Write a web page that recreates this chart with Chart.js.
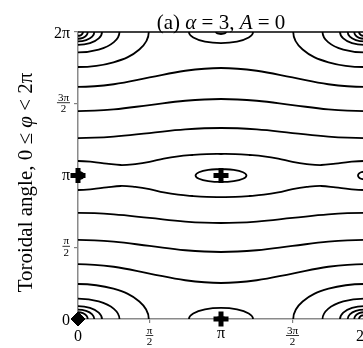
<!DOCTYPE html>
<html>
<head>
<meta charset="utf-8">
<script src="https://cdn.jsdelivr.net/npm/chart.js@4.4.1/dist/chart.umd.min.js"></script>
<style>
  html, body { margin: 0; padding: 0; overflow: hidden; background: #fff; }
  canvas { display: block; }
</style>
</head>
<body>
<canvas id="c" width="420" height="348"></canvas>
<script>
// Both angles are stored in units of π (poloidal on x, toroidal on y).
const tickValues = [0, 0.5, 1, 1.5, 2];
const xTickLabels = ['0', 'π/2', 'π', '3π/2', '2π'];
const yTickLabels = ['0', 'π/2', 'π', '3π/2', '2π'];
const titleParts = [['(a) ', false], ['α', true], [' = 3, ', false], ['A', true], [' = 0', false]];
const yTitleParts = [['Toroidal angle, 0 ≤ ', false], ['φ', true], [' < 2π', false]];

// Open field lines, bottom to top
const flow1 = [[-0.25,.364],[0,.383],[.25,.364],[.5,.317],[.75,.270],[1,.251],[1.25,.270],[1.5,.317],[1.75,.364],[2,.383],[2.25,.364]];
const flow2 = [[-0.25,.539],[0,.551],[.25,.539],[.5,.509],[.75,.479],[1,.467],[1.25,.479],[1.5,.509],[1.75,.539],[2,.551],[2.25,.539]];
const flow3 = [[-0.25,.729],[0,.739],[.25,.729],[.5,.704],[.75,.679],[1,.669],[1.25,.679],[1.5,.704],[1.75,.729],[2,.739],[2.25,.729]];
const flow4 = [[-0.1,.905],[0,.899],[.1,.905],[.2,.917],[.3,.927],[.4,.920],[.5,.905],[.6,.882],[.7,.866],[.8,.857],[.9,.851],[1,.850],[1.1,.851],[1.2,.857],[1.3,.866],[1.4,.882],[1.5,.905],[1.6,.920],[1.7,.927],[1.8,.917],[1.9,.905],[2,.899],[2.1,.905]];
const flow5 = [[-0.1,1.095],[0,1.101],[.1,1.095],[.2,1.083],[.3,1.073],[.4,1.080],[.5,1.095],[.6,1.118],[.7,1.134],[.8,1.143],[.9,1.149],[1,1.150],[1.1,1.149],[1.2,1.143],[1.3,1.134],[1.4,1.118],[1.5,1.095],[1.6,1.080],[1.7,1.073],[1.8,1.083],[1.9,1.095],[2,1.101],[2.1,1.095]];
const flow6 = [[-0.25,1.271],[0,1.261],[.25,1.271],[.5,1.296],[.75,1.321],[1,1.331],[1.25,1.321],[1.5,1.296],[1.75,1.271],[2,1.261],[2.25,1.271]];
const flow7 = [[-0.25,1.461],[0,1.449],[.25,1.461],[.5,1.491],[.75,1.521],[1,1.533],[1.25,1.521],[1.5,1.491],[1.75,1.461],[2,1.449],[2.25,1.461]];
const flow8 = [[-0.25,1.636],[0,1.617],[.25,1.636],[.5,1.683],[.75,1.730],[1,1.749],[1.25,1.730],[1.5,1.683],[1.75,1.636],[2,1.617],[2.25,1.636]];

// Closed islands around the O-points
const islandCentre = [[1,1.045],[.911,1.039],[.846,1.0225],[.822,1],[.846,.9775],[.911,.961],[1,.955],[1.089,.961],[1.154,.9775],[1.178,1],[1.154,1.0225],[1.089,1.039],[1,1.045]];
const islandRight = [[2.021,1.0225],[2,1.026],[1.979,1.0225],[1.964,1.013],[1.958,1],[1.964,.987],[1.979,.9775],[2,.974],[2.021,.9775]];
const islandLeft = [[-0.021,1.0225],[0,1.026],[.021,1.0225],[.036,1.013],[.042,1],[.036,.987],[.021,.9775],[0,.974],[-0.021,.9775]];
const domeBottom = [[1.194,-.0385],[1.224,0],[1.194,.0385],[1.112,.0667],[1,.077],[.888,.0667],[.806,.0385],[.776,0],[.806,-.0385]];
const domeTop = [[1.194,2.0385],[1.224,2],[1.194,1.9615],[1.112,1.9333],[1,1.923],[.888,1.9333],[.806,1.9615],[.776,2],[.806,2.0385]];
const capBottom = [[1.03,-.007],[1.035,0],[1.03,.007],[1.0175,.012],[1,.014],[.9825,.012],[.97,.007],[.965,0],[.97,-.007]];
const capTop = [[1.03,2.007],[1.035,2],[1.03,1.993],[1.0175,1.988],[1,1.986],[.9825,1.988],[.97,1.993],[.965,2],[.97,2.007]];

// Nested arcs around the corner O-points, outermost first
const arcsLowerLeft = [
  [[.429,-.122],[.495,0],[.429,.122],[.248,.211],[0,.244],[-.248,.211]],
  [[.251,-.071],[.29,0],[.251,.071],[.145,.123],[0,.142],[-.145,.123]],
  [[.145,-.045],[.168,0],[.145,.045],[.084,.078],[0,.09],[-.084,.078]],
  [[.099,-.033],[.114,0],[.099,.033],[.057,.057],[0,.066],[-.057,.057]],
  [[.059,-.024],[.068,0],[.059,.024],[.034,.041],[0,.047],[-.034,.041]],
  [[.030,-.013],[.035,0],[.030,.013],[.018,.023],[0,.026],[-.018,.023]]
];
const arcsLowerRight = [
  [[1.571,-.122],[1.505,0],[1.571,.122],[1.752,.211],[2,.244],[2.248,.211]],
  [[1.749,-.071],[1.71,0],[1.749,.071],[1.855,.123],[2,.142],[2.145,.123]],
  [[1.855,-.045],[1.832,0],[1.855,.045],[1.916,.078],[2,.09],[2.084,.078]],
  [[1.901,-.033],[1.886,0],[1.901,.033],[1.943,.057],[2,.066],[2.057,.057]],
  [[1.941,-.024],[1.932,0],[1.941,.024],[1.966,.041],[2,.047],[2.034,.041]],
  [[1.970,-.013],[1.965,0],[1.970,.013],[1.982,.023],[2,.026],[2.018,.023]]
];
const arcsUpperLeft = [
  [[.429,2.122],[.495,2],[.429,1.878],[.248,1.789],[0,1.756],[-.248,1.789]],
  [[.251,2.071],[.29,2],[.251,1.929],[.145,1.877],[0,1.858],[-.145,1.877]],
  [[.145,2.045],[.168,2],[.145,1.955],[.084,1.922],[0,1.91],[-.084,1.922]],
  [[.099,2.033],[.114,2],[.099,1.967],[.057,1.943],[0,1.934],[-.057,1.943]],
  [[.059,2.024],[.068,2],[.059,1.976],[.034,1.959],[0,1.953],[-.034,1.959]],
  [[.030,2.013],[.035,2],[.030,1.987],[.018,1.977],[0,1.974],[-.018,1.977]]
];
const arcsUpperRight = [
  [[1.571,2.122],[1.505,2],[1.571,1.878],[1.752,1.789],[2,1.756],[2.248,1.789]],
  [[1.749,2.071],[1.71,2],[1.749,1.929],[1.855,1.877],[2,1.858],[2.145,1.877]],
  [[1.855,2.045],[1.832,2],[1.855,1.955],[1.916,1.922],[2,1.91],[2.084,1.922]],
  [[1.901,2.033],[1.886,2],[1.901,1.967],[1.943,1.943],[2,1.934],[2.057,1.943]],
  [[1.941,2.024],[1.932,2],[1.941,1.976],[1.966,1.959],[2,1.953],[2.034,1.959]],
  [[1.970,2.013],[1.965,2],[1.970,1.987],[1.982,1.977],[2,1.974],[2.018,1.977]]
];

// Fixed points
const crossPoints = [[1,0],[0,1],[1,1]];
const diamondPoints = [[0,0]];

const SERIF = '"Liberation Serif", "DejaVu Serif", serif';
const TICK_SIZE = 16, FRAC_SIZE = 11, TITLE_SIZE = 21, YTITLE_SIZE = 21;
const fontOf = (size, italic) => (italic ? 'italic ' : '') + size + 'px ' + SERIF;

function contour(data) {
  return {
    data, borderColor: '#000', borderWidth: 1.8, pointRadius: 0,
    tension: 0.4, fill: false, order: 1
  };
}

const contourSets = [flow1, flow2, flow3, flow4, flow5, flow6, flow7, flow8,
  islandCentre, islandRight, islandLeft, domeBottom, domeTop, capBottom, capTop,
  ...arcsLowerLeft, ...arcsLowerRight, ...arcsUpperLeft, ...arcsUpperRight];

function drawParts(ctx, parts, size, cx, baseline) {
  let total = 0;
  parts.forEach(([t, it]) => { ctx.font = fontOf(size, it); total += ctx.measureText(t).width; });
  let x = cx - total / 2;
  ctx.textAlign = 'left';
  ctx.textBaseline = 'alphabetic';
  parts.forEach(([t, it]) => {
    ctx.font = fontOf(size, it);
    ctx.fillText(t, x, baseline);
    x += ctx.measureText(t).width;
  });
}

// x mode: glyphs hang from py, centred on px; y mode: right edge at px, centred on py
function drawTickLabel(ctx, label, px, py, mode) {
  ctx.fillStyle = '#000';
  ctx.textBaseline = 'alphabetic';
  if (label.includes('/')) {
    const [num, den] = label.split('/');
    ctx.font = fontOf(FRAC_SIZE, false);
    const mn = ctx.measureText(num), md = ctx.measureText(den);
    const w = Math.max(mn.width, md.width) + 2;
    const cx = mode === 'x' ? px : px - w / 2;
    const bar = mode === 'x' ? py + 5.5 : py - 1;
    ctx.textAlign = 'center';
    ctx.fillText(num, cx, bar - 2 - mn.actualBoundingBoxDescent);
    ctx.fillText(den, cx, bar + 2.5 + md.actualBoundingBoxAscent);
    ctx.fillRect(cx - w / 2, bar - 0.4, w, 0.8);
  } else {
    ctx.font = fontOf(TICK_SIZE, false);
    const m = ctx.measureText(label);
    if (mode === 'x') {
      ctx.textAlign = 'center';
      ctx.fillText(label, px, py + m.actualBoundingBoxAscent);
    } else {
      ctx.textAlign = 'right';
      ctx.fillText(label, px, py + (m.actualBoundingBoxAscent - m.actualBoundingBoxDescent) / 2);
    }
  }
}

const textPlugin = {
  id: 'mathText',
  beforeDatasetsDraw(chart) {
    const { ctx, chartArea } = chart;
    ctx.save();
    ctx.strokeStyle = '#000';
    ctx.lineWidth = 1.5;
    ctx.beginPath();
    ctx.moveTo(chartArea.left, chartArea.top);
    ctx.lineTo(chartArea.right, chartArea.top);
    ctx.stroke();
    ctx.restore();
  },
  afterDraw(chart) {
    const { ctx, chartArea, scales } = chart;
    ctx.save();
    ctx.fillStyle = '#000';
    tickValues.forEach((v, i) => {
      drawTickLabel(ctx, xTickLabels[i], scales.x.getPixelForValue(v), chartArea.bottom + 11, 'x');
      drawTickLabel(ctx, yTickLabels[i], chartArea.left - 8, scales.y.getPixelForValue(v), 'y');
    });
    drawParts(ctx, titleParts, TITLE_SIZE, (chartArea.left + chartArea.right) / 2, 29);
    ctx.translate(32, (chartArea.top + chartArea.bottom) / 2 + 7);
    ctx.rotate(-Math.PI / 2);
    drawParts(ctx, yTitleParts, YTITLE_SIZE, 0, 0);
    ctx.restore();
  }
};

const axisCommon = {
  type: 'linear', min: 0, max: 2,
  ticks: { display: false, stepSize: 0.5 },
  grid: { display: true, drawOnChartArea: false, drawTicks: true, tickLength: 4, color: '#808080', lineWidth: 1.2 },
  border: { display: true, color: '#8a8a8a', width: 1.5 }
};

new Chart(document.getElementById('c'), {
  type: 'line',
  data: {
    datasets: [
      {
        data: crossPoints, showLine: false, pointStyle: 'cross', pointRadius: 7.5,
        pointBorderWidth: 5, pointBorderColor: '#000', pointBackgroundColor: '#000',
        clip: false, order: 0
      },
      {
        data: diamondPoints, showLine: false, pointStyle: 'rectRot', pointRadius: 7,
        pointBorderWidth: 1, pointBorderColor: '#000', pointBackgroundColor: '#000',
        clip: false, order: 0
      },
      ...contourSets.map(contour)
    ]
  },
  options: {
    responsive: false,
    animation: false,
    events: [],
    layout: { padding: { left: 0, top: 32, right: 56, bottom: 0 } },
    plugins: { legend: { display: false }, tooltip: { enabled: false }, title: { display: false } },
    scales: {
      x: { ...axisCommon, position: 'bottom', afterFit: s => { s.height = 29; } },
      y: { ...axisCommon, position: 'left', afterFit: s => { s.width = 78; } }
    }
  },
  plugins: [textPlugin]
});
</script>
</body>
</html>
